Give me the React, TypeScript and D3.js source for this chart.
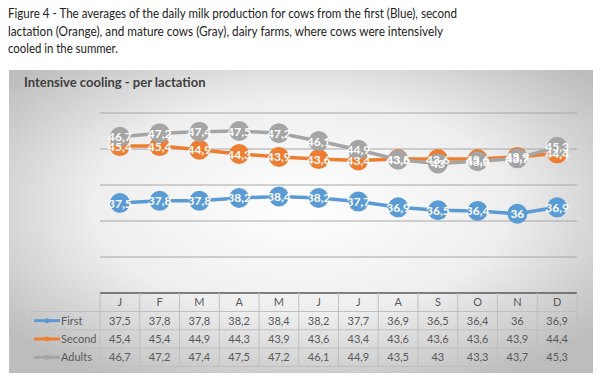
import React from "react";
import * as d3 from "d3";

const months = ["J", "F", "M", "A", "M", "J", "J", "A", "S", "O", "N", "D"];
const seriesNames = ["First", "Second", "Adults"];
const first = [37.5, 37.8, 37.8, 38.2, 38.4, 38.2, 37.7, 36.9, 36.5, 36.4, 36, 36.9];
const second = [45.4, 45.4, 44.9, 44.3, 43.9, 43.6, 43.4, 43.6, 43.6, 43.6, 43.9, 44.4];
const adults = [46.7, 47.2, 47.4, 47.5, 47.2, 46.1, 44.9, 43.5, 43, 43.3, 43.7, 45.3];
const yTicks = [25, 30, 35, 40, 45, 50];
const colors = ["#5B9BD5", "#ED7D31", "#A5A5A5"];
const captionLines = [
  "Figure 4 - The averages of the daily milk production for cows from the first (Blue), second",
  "lactation (Orange), and mature cows (Gray), dairy farms, where cows were intensively",
  "cooled in the summer.",
];
const captionWidths = [449, 435, 110];
const chartTitle = "Intensive cooling - per lactation";

const fmt = (v: number) => String(v).replace(".", ",");

export default function App() {
  const data = [first, second, adults];
  const x = d3.scaleBand<number>().domain(d3.range(12)).range([100, 577]);
  const y = d3.scaleLinear().domain([25, 50]).range([293, 113]);
  const line = d3
    .line<number>()
    .x((_, i) => (x(i) as number) + x.bandwidth() / 2)
    .y((d) => y(d));
  const rowTop = 293;
  const headerH = 18.5;
  const rowH = 18.3;
  const tableLeft = 31;
  const font = "Lato, 'Open Sans', sans-serif";
  return (
    <svg width={600} height={383} style={{ position: "absolute", left: 0, top: 0, background: "#fff" }}>
      <defs>
        <radialGradient id="bg" cx="50%" cy="45%" r="65%">
          <stop offset="0%" stopColor="#ffffff" />
          <stop offset="55%" stopColor="#eeeeee" />
          <stop offset="100%" stopColor="#bdbdbd" />
        </radialGradient>
      </defs>
      {captionLines.map((t, i) => (
        <text
          key={i}
          x={8}
          y={18 + i * 17.5}
          fontFamily={font}
          fontSize={13}
          fill="#222"
          textLength={captionWidths[i]}
          lengthAdjust="spacingAndGlyphs"
        >
          {t}
        </text>
      ))}
      <rect x={9} y={70} width={584} height={303} fill="url(#bg)" />
      <text x={24} y={87} fontFamily={font} fontWeight="bold" fontSize={13} fill="#404040">
        {chartTitle}
      </text>
      {yTicks.slice(1).map((t) => (
        <line key={t} x1={100} x2={577} y1={y(t)} y2={y(t)} stroke="#a6a6a6" strokeWidth={1} />
      ))}
      {/* table */}
      <line x1={100} x2={577} y1={rowTop} y2={rowTop} stroke="#595959" strokeWidth={1.5} />
      {d3.range(13).map((i) => {
        const xx = 100 + i * x.bandwidth();
        return <line key={i} x1={xx} x2={xx} y1={rowTop} y2={rowTop + headerH + 3 * rowH} stroke="#bfbfbf" />;
      })}
      <line x1={tableLeft} x2={tableLeft} y1={rowTop + headerH} y2={rowTop + headerH + 3 * rowH} stroke="#bfbfbf" />
      {d3.range(4).map((r) => (
        <line
          key={r}
          x1={tableLeft}
          x2={577}
          y1={rowTop + headerH + r * rowH}
          y2={rowTop + headerH + r * rowH}
          stroke="#bfbfbf"
        />
      ))}
      {months.map((m, i) => (
        <text
          key={i}
          x={(x(i) as number) + x.bandwidth() / 2}
          y={rowTop + headerH / 2 + 4}
          textAnchor="middle"
          fontFamily={font}
          fontSize={11}
          fill="#595959"
        >
          {m}
        </text>
      ))}
      {data.map((s, r) => (
        <g key={r}>
          <line
            x1={tableLeft + 3}
            x2={tableLeft + 29}
            y1={rowTop + headerH + r * rowH + rowH / 2}
            y2={rowTop + headerH + r * rowH + rowH / 2}
            stroke={colors[r]}
            strokeWidth={3}
          />
          <circle
            cx={tableLeft + 16}
            cy={rowTop + headerH + r * rowH + rowH / 2}
            r={2.5}
            fill={colors[r]}
          />
          <text
            x={tableLeft + 30}
            y={rowTop + headerH + r * rowH + rowH / 2 + 4}
            fontFamily={font}
            fontSize={11}
            fill="#595959"
          >
            {seriesNames[r]}
          </text>
          {s.map((v, i) => (
            <text
              key={i}
              x={(x(i) as number) + x.bandwidth() / 2}
              y={rowTop + headerH + r * rowH + rowH / 2 + 4}
              textAnchor="middle"
              fontFamily={font}
              fontSize={11}
              fill="#595959"
            >
              {fmt(v)}
            </text>
          ))}
        </g>
      ))}
      {/* series */}
      {data.map((s, r) => (
        <g key={r}>
          <path d={line(s) || ""} fill="none" stroke={colors[r]} strokeWidth={3.5} />
          {s.map((v, i) => (
            <circle
              key={i}
              cx={(x(i) as number) + x.bandwidth() / 2}
              cy={y(v)}
              r={10}
              fill={colors[r]}
            />
          ))}
        </g>
      ))}
      {data.map((s, r) => (
        <g key={r}>
          {s.map((v, i) => (
            <text
              key={i}
              x={(x(i) as number) + x.bandwidth() / 2}
              y={y(v) + 4.5}
              textAnchor="middle"
              fontFamily={font}
              fontWeight="bold"
              fontSize={12}
              fill="#fff"
            >
              {fmt(v)}
            </text>
          ))}
        </g>
      ))}
    </svg>
  );
}
